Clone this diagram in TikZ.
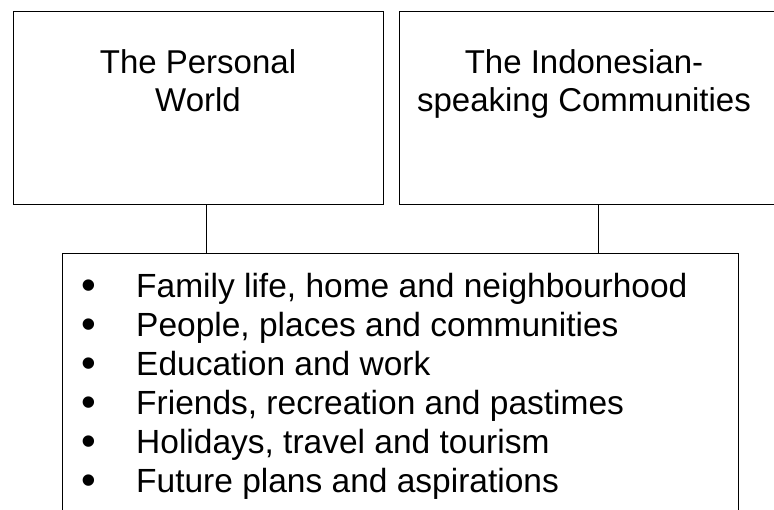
\documentclass[tikz,border=0pt]{standalone}
\usepackage{fontspec}
\setmainfont{Liberation Sans}
\begin{document}
\begin{tikzpicture}[x=1pt,y=-1pt,
  box/.style={draw,line width=1pt,inner sep=0pt,anchor=north west},
  txt/.style={font=\fontsize{33}{38}\selectfont,align=center,inner sep=0pt},
  item/.style={font=\fontsize{33.5}{39}\selectfont,inner sep=0pt,anchor=base west},
  bul/.style={font=\fontsize{42}{39}\selectfont,inner sep=0pt,anchor=base},
  link/.style={line width=1pt}]
\useasboundingbox (0,0) rectangle (774,509);
\node[box,minimum width=370pt,minimum height=193pt] (left) at (13,11) {};
\node[box,minimum width=391pt,minimum height=193pt] (right) at (399,11) {};
\node[box,minimum width=676pt,minimum height=290pt] (list) at (62,253) {};
\node[txt,anchor=north] (lt) at (198,49) {The Personal\\World};
\node[txt,anchor=north] (rt) at (584,49) {The Indonesian-\\speaking Communities};
\foreach \t [count=\i] in {Family life{,} home and neighbourhood,
  People{,} places and communities,
  Education and work,
  Friends{,} recreation and pastimes,
  Holidays{,} travel and tourism,
  Future plans and aspirations}{
  \node[bul] (b\i) at (89,{299+39*(\i-1)}) {•};
  \node[item] (i\i) at (136,{297+39*(\i-1)}) {\t};
}
\coordinate (c1) at (206,0);
\coordinate (c2) at (598,0);
\draw[link] (left.south -| c1) -- (list.north -| c1);
\draw[link] (right.south -| c2) -- (list.north -| c2);
\end{tikzpicture}
\end{document}
